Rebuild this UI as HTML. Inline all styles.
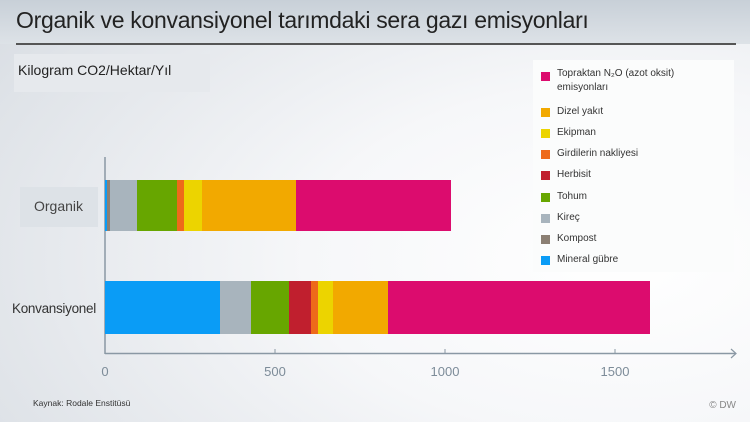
<!DOCTYPE html>
<html><head><meta charset="utf-8"><style>
body{margin:0;width:750px;height:422px;overflow:hidden;font-family:"Liberation Sans",sans-serif;}
#bg{position:absolute;left:0;top:0;width:750px;height:422px;background:radial-gradient(ellipse 900px 500px at 620px 260px,#ffffff 0%,#f6f7f9 35%,#dfe3e8 75%,#cdd3da 100%);}
.a{position:absolute;}
.lg{position:absolute;left:8px;width:9px;height:9px;}
.lt{position:absolute;left:24px;font-size:10px;color:#333;}
</style></head><body>
<div id="bg"></div>
<div class="a" style="left:0;top:0;width:750px;height:44px;background:linear-gradient(#c8d0d8,#dde2e7);"></div>
<div class="a" style="left:16px;top:7px;font-size:23px;color:#222;letter-spacing:-0.3px;">Organik ve konvansiyonel tarımdaki sera gazı emisyonları</div>
<div class="a" style="left:16px;top:43px;width:720px;height:2px;background:#555;"></div>
<div class="a" style="left:14px;top:54px;width:196px;height:38px;background:#e6e9ed;"></div>
<div class="a" style="left:18px;top:62px;font-size:14px;color:#222;">Kilogram CO2/Hektar/Yıl</div>
<div class="a" style="left:533px;top:60px;width:201px;height:212px;background:#fbfcfc;">
<div class="lg" style="top:12px;background:#dc0c6e"></div><div class="lt" style="top:7px;line-height:14px">Topraktan N₂O (azot oksit)<br>emisyonları</div>
<div class="lg" style="top:48px;background:#f2a900"></div><div class="lt" style="top:46px">Dizel yakıt</div>
<div class="lg" style="top:69px;background:#ecd400"></div><div class="lt" style="top:67px">Ekipman</div>
<div class="lg" style="top:90px;background:#ee6a1a"></div><div class="lt" style="top:88px">Girdilerin nakliyesi</div>
<div class="lg" style="top:111px;background:#c01f2e"></div><div class="lt" style="top:109px">Herbisit</div>
<div class="lg" style="top:133px;background:#67a600"></div><div class="lt" style="top:131px">Tohum</div>
<div class="lg" style="top:154px;background:#a8b4bd"></div><div class="lt" style="top:152px">Kireç</div>
<div class="lg" style="top:175px;background:#8b7f73"></div><div class="lt" style="top:173px">Kompost</div>
<div class="lg" style="top:196px;background:#0a9cf6"></div><div class="lt" style="top:194px">Mineral gübre</div>
</div>
<div class="a" style="left:20px;top:187px;width:78px;height:40px;background:#dde2e7;"></div>
<div class="a" style="left:34px;top:198px;font-size:14px;color:#444;">Organik</div>
<div class="a" style="left:12px;top:301px;font-size:13.5px;color:#333;letter-spacing:-0.3px;">Konvansiyonel</div>
<svg class="a" style="left:0;top:0" width="750" height="422">
<line x1="105" y1="157" x2="105" y2="354" stroke="#8a98a4" stroke-width="1.5"/>
<line x1="105" y1="353.5" x2="736" y2="353.5" stroke="#8a98a4" stroke-width="1.5"/>
<path d="M731 349 L736 353.5 L731 358" fill="none" stroke="#8a98a4" stroke-width="1.2"/>
<g stroke="#8a98a4"><line x1="275" y1="349" x2="275" y2="354"/><line x1="445" y1="349" x2="445" y2="354"/><line x1="615" y1="349" x2="615" y2="354"/></g>
<rect x="105" y="180" width="2" height="51" fill="#0a9cf6"/>
<rect x="107" y="180" width="3" height="51" fill="#8b7f73"/>
<rect x="110" y="180" width="27" height="51" fill="#a8b4bd"/>
<rect x="137" y="180" width="40" height="51" fill="#67a600"/>
<rect x="177" y="180" width="7" height="51" fill="#ee6a1a"/>
<rect x="184" y="180" width="18" height="51" fill="#ecd400"/>
<rect x="202" y="180" width="94" height="51" fill="#f2a900"/>
<rect x="296" y="180" width="155" height="51" fill="#dc0c6e"/>
<rect x="105" y="281" width="115" height="53" fill="#0a9cf6"/>
<rect x="220" y="281" width="31" height="53" fill="#a8b4bd"/>
<rect x="251" y="281" width="38" height="53" fill="#67a600"/>
<rect x="289" y="281" width="22" height="53" fill="#c01f2e"/>
<rect x="311" y="281" width="7" height="53" fill="#ee6a1a"/>
<rect x="318" y="281" width="15" height="53" fill="#ecd400"/>
<rect x="333" y="281" width="55" height="53" fill="#f2a900"/>
<rect x="388" y="281" width="262" height="53" fill="#dc0c6e"/>
<g font-family="Liberation Sans, sans-serif" font-size="13" fill="#7d8c99" text-anchor="middle">
<text x="105" y="376">0</text><text x="275" y="376">500</text><text x="445" y="376">1000</text><text x="615" y="376">1500</text></g>
<text x="33" y="406" font-family="Liberation Sans, sans-serif" font-size="8.5" fill="#333">Kaynak: Rodale Enstitüsü</text>
<text x="736" y="408" text-anchor="end" font-family="Liberation Sans, sans-serif" font-size="10" fill="#888">© DW</text>
</svg>
</body></html>
